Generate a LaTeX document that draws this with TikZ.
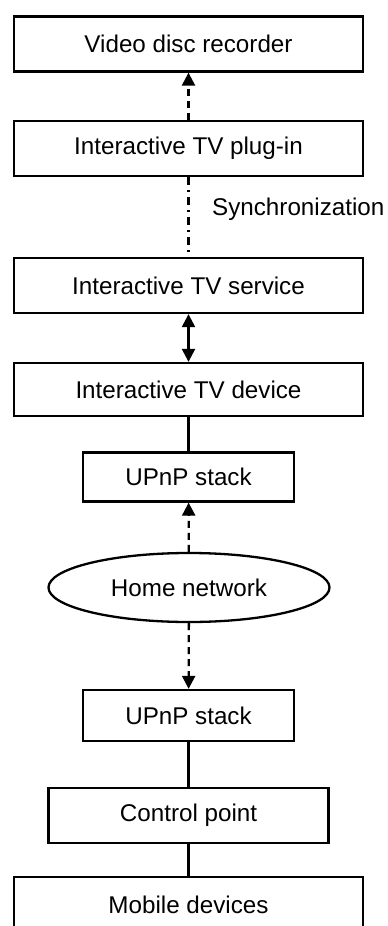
\documentclass[tikz,border=0pt]{standalone}
\usepackage{fontspec}
\setmainfont{Liberation Sans}
\usetikzlibrary{arrows.meta,shapes.geometric}
\begin{document}
\begin{tikzpicture}[x=1pt,y=-1pt,
  label font/.style={font=\fontsize{24.2}{29}\selectfont},
  box/.style={draw,line width=2.3pt,rectangle,inner sep=0pt,
    minimum height=55pt,label font},
  wide/.style={box,minimum width=349pt},
  narrow/.style={box,minimum width=211pt,minimum height=49pt},
  cloud/.style={draw,line width=2.3pt,ellipse,inner sep=0pt,
    minimum width=281pt,minimum height=69pt,label font},
  link/.style={line width=2.3pt},
  head/.tip={Triangle[length=13pt,width=13pt]},
  tip/.style={-head},
  dashlink/.style={link,dash pattern=on 7pt off 5pt},
  syncline/.style={link,dash pattern=on 8pt off 5pt on 2pt off 5pt}
]
\useasboundingbox (0,0) rectangle (388,926);
\clip (0,0) rectangle (388,926);

% device-side stack
\node[wide] (vdr) at (188.5,44) {Video disc recorder};
\node[wide] (plug) at (188.5,148.5) {Interactive TV plug-in};
\node[wide] (svc) at (188.5,285.5) {Interactive TV service};
\node[wide,minimum height=53pt] (dev) at (188.5,389.5) {Interactive TV device};
\node[narrow] (upA) at (188.5,477) {UPnP stack};

% network
\node[cloud] (net) at (189,587.5) {Home network};

% controller side
\node[narrow,minimum height=51pt] (upB) at (188.5,715.5) {UPnP stack};
\node[box,minimum width=280pt] (cp) at (188.5,815.5) {Control point};
\node[wide,minimum height=56pt] (mob) at (188.5,905) {Mobile devices};

% connectors
\draw[dashlink,tip] (plug) -- (vdr);
\draw[syncline] (plug) -- (svc);
\node[anchor=base west,inner sep=0pt,label font]
  (sync) at (212,215) {Synchronization};
\draw[link,head-head] (svc) -- (dev);
\draw[link] (dev) -- (upA);
\draw[dashlink,tip] (net) -- (upA);
\draw[dashlink,tip] (net) -- (upB);
\draw[link] (upB) -- (cp);
\draw[link] (cp) -- (mob);
\end{tikzpicture}
\end{document}
